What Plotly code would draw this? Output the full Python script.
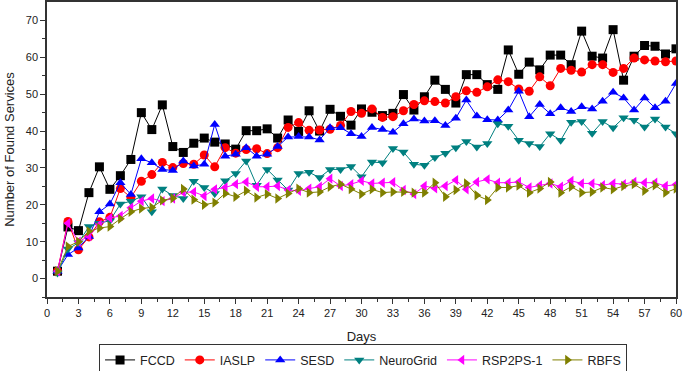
import plotly.graph_objects as go

days = list(range(1, 61))

fccd = [2, 14, 13, 23.3, 30.3, 24.2, 27.9, 32.3, 45, 40.4,
        47.1, 35.8, 34.2, 36.7, 38.1, 37, 36.5, 35.1, 40.1, 40.1,
        40.6, 38.1, 43, 39.9, 45.5, 40, 45.9, 44, 41.6, 46,
        45.1, 44.2, 44.8, 49.9, 45.7, 49.3, 53.8, 51.3, 47.6, 55.3,
        55.3, 52.6, 51.3, 62, 55.4, 58.7, 56.6, 60.6, 60.6, 58,
        67.1, 60.3, 59.8, 67.5, 53.8, 60.3, 63.2, 63, 60.9, 62.3]

iaslp = [2, 15.5, 7.8, 11.3, 15.4, 16.6, 24.4, 22, 26.4, 28.2,
         31.5, 30.1, 31.2, 31, 33.5, 30.3, 35.5, 34, 35, 35.2,
         33.9, 35.5, 41, 42.3, 40.2, 40.3, 40.5, 41.5, 45.3, 44.8,
         46, 43.7, 43.9, 45.5, 47.2, 48.2, 48, 47.6, 49.3, 50.9,
         50.5, 52, 53.9, 53.4, 51.4, 50.8, 54.7, 52.3, 57, 56.5,
         56, 58, 58, 55.9, 57, 59.8, 59.3, 59, 58.8, 59]

sesd = [2, 6.5, 8.3, 11.4, 18.1, 20.2, 26, 22.8, 32.5, 31.4,
        29.6, 29.3, 31.9, 30.5, 31, 41.8, 33.2, 33.7, 35.5, 33.2,
        33.7, 35.8, 38.4, 38.5, 38.4, 37.6, 40.9, 40.9, 39.3, 38.5,
        41, 40.4, 39.7, 42, 43.3, 42.7, 42.8, 41.5, 43.5, 48.4,
        44.1, 43.1, 43, 45.7, 50.8, 43.9, 47.2, 44.7, 46.3, 45.3,
        46.6, 46, 48.1, 50.5, 49, 45.7, 49, 46.3, 48.1, 52.9]

neurogrid = [1.5, 8, 9.7, 14.1, 15, 15.7, 20.2, 21, 22.2, 18.1,
             24.3, 22.5, 21.7, 26.4, 24.7, 23.1, 26.5, 28.5, 31.9, 25.3,
             29.6, 26.7, 24, 28.5, 28.8, 27.4, 29.6, 29.6, 30.4, 27.6,
             31.6, 31.4, 35.3, 34.3, 31, 30.7, 32.8, 34, 35.5, 37.2,
             35.7, 36.6, 42, 41.3, 37.5, 36.6, 35.8, 39.3, 37.5, 42.4,
             42.6, 39.4, 42.6, 40.9, 43.6, 42.9, 41.1, 43.3, 41.1, 39.3]

rsp2ps = [2, 15, 10, 11.5, 14.6, 16.4, 17, 19.2, 21, 21.7,
          21, 21.7, 23.4, 23.5, 22.4, 24.2, 24.7, 25.6, 26.2, 24.9,
          24.9, 25.1, 24, 23.8, 24.4, 24.9, 27.1, 25.1, 25.6, 26.5,
          25.8, 26, 26.1, 24, 22.9, 25.1, 24.5, 25.1, 26.7, 24.2,
          26.2, 26.9, 26, 26, 26.2, 24.7, 25.3, 25.8, 24.9, 26.5,
          25.8, 25.8, 25.3, 25.8, 25.6, 26.2, 26, 26, 25.1, 25.5]

rbfs = [2, 8.7, 10, 12.8, 13.7, 14.1, 16.2, 18.1, 19, 19.3,
        21.2, 21.8, 24.3, 21.4, 20, 20.6, 23.1, 22.2, 23.8, 22,
        22.9, 21.7, 23.1, 24.4, 23.3, 23.5, 24.9, 25.6, 24.3, 22.9,
        24.2, 23.3, 23.5, 23.5, 23.3, 23.3, 26, 22.2, 24, 25.8,
        22.6, 21.3, 24.7, 24.7, 25.2, 23.3, 24.4, 26.2, 23.3, 24.9,
        23.3, 23.5, 24.7, 24.2, 25.1, 25.6, 23.8, 25.3, 23.3, 24.4]

series = [
    ("FCCD", fccd, "#000000", "square"),
    ("IASLP", iaslp, "#FF0000", "circle"),
    ("SESD", sesd, "#0000FF", "triangle-up"),
    ("NeuroGrid", neurogrid, "#008080", "triangle-down"),
    ("RSP2PS-1", rsp2ps, "#FF00FF", "triangle-left"),
    ("RBFS", rbfs, "#808000", "triangle-right"),
]

fig = go.Figure()
for name, vals, color, sym in series:
    fig.add_trace(go.Scatter(
        x=days, y=vals, name=name, mode="lines+markers",
        line=dict(color=color, width=1),
        marker=dict(symbol=sym, size=9, color=color, line=dict(width=0)),
    ))

axis_common = dict(
    showline=True, linecolor="#333333", linewidth=1.5, mirror=True,
    ticks="outside", ticklen=5, tickcolor="#333333", tickwidth=1,
    showgrid=False, zeroline=False, automargin=False,
    tickfont=dict(family="Liberation Sans, Arial, sans-serif", size=11, color="#222222"),
)

fig.update_layout(
    width=685, height=371,
    margin=dict(l=47, r=9, t=2, b=74),
    paper_bgcolor="white", plot_bgcolor="white",
    font=dict(family="Liberation Sans, Arial, sans-serif", size=12, color="#222222"),
    xaxis=dict(range=[0, 60], dtick=3, tick0=0,
               title=dict(text="Days", font=dict(size=13), standoff=14),
               minor=dict(dtick=1.5, ticks="outside", ticklen=3, tickcolor="#333333"),
               **axis_common),
    yaxis=dict(range=[-5, 75], tickvals=[0, 10, 20, 30, 40, 50, 60, 70],
               title=dict(text="Number of Found Services", font=dict(size=13), standoff=8),
               minor=dict(tickvals=[-5, 5, 15, 25, 35, 45, 55, 65], ticks="outside", ticklen=3, tickcolor="#333333"),
               **axis_common),
    legend=dict(orientation="h", xref="container", yref="container",
                x=0.53, xanchor="center", y=0.072, yanchor="top",
                bordercolor="#333333", borderwidth=1, bgcolor="white",
                font=dict(size=12.5), itemwidth=30, tracegroupgap=0),
)

fig.write_html("out.html", config={"displayModeBar": False},
               post_script="document.body.style.margin='0';document.body.style.padding='0';")
